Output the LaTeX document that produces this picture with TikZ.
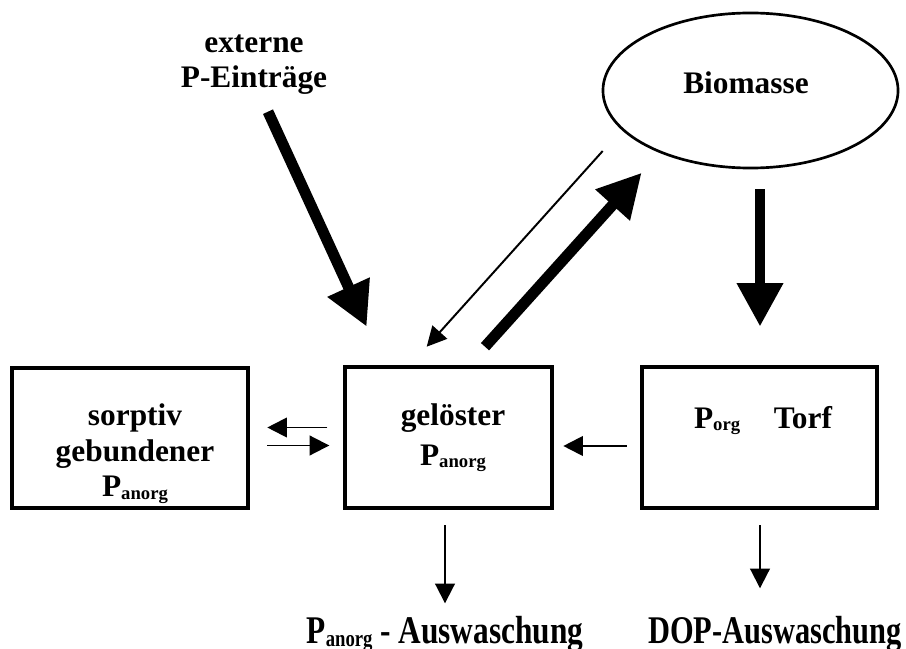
\documentclass[tikz,border=0pt]{standalone}
\usepackage{fontspec}
\setmainfont{Liberation Serif}
\usetikzlibrary{arrows.meta}
\usetikzlibrary{shapes.geometric}

\newcommand{\psub}[1]{\raisebox{-2pt}{\fontsize{13.3}{14}\selectfont #1}}

\tikzset{
    lbl/.style={anchor=base,inner sep=0pt,font=\bfseries\fontsize{22.3}{25.2}\selectfont},
    pool/.style={draw,line width=2.5pt,minimum width=#1,minimum height=3.525cm,inner sep=0pt,outer sep=0pt},
    fatflow/.style={line width=7.8pt,-{Triangle[length=31pt,width=31pt]}},
    slimflow/.style={line width=1.4pt,-{Triangle[length=14pt,width=14pt]}},
}

\begin{document}
\begin{tikzpicture}[x=0.025cm,y=-0.025cm]
    \useasboundingbox (0,0) rectangle (906,649);

    % pools
    \node[pool=5.9cm,minimum height=3.5cm] (sorp) at (130,438) {};
    \node[pool=5.175cm] (gel) at (448.5,437.5) {};
    \node[pool=5.875cm] (torf) at (759.5,437.5) {};
    \node[draw,ellipse,line width=1.9pt,minimum width=7.375cm,minimum height=3.875cm,inner sep=0pt] (bio) at (750.5,90.5) {};

    % labels (base = last line)
    \node[lbl,align=center] (ext) at (254,88) {externe\\P-Eintr\"age};
    \node[lbl] (biotxt) at (746,94) {Biomasse};
    \node[lbl,align=center] (sorptxt) at (135,496.7) {sorptiv\\gebundener\\P\psub{anorg}};
    \node[lbl,align=center] (geltxt) at (453,465) {gel\"oster\\[3pt]P\psub{anorg}};
    \node[lbl] (torftxt) at (763,428) {P\psub{org}\hspace{24pt}Torf};
    \node[lbl] (auswa) at (445,643) {\scalebox{1}[1.25]{P\psub{anorg} - Auswaschung}};
    \node[lbl] (auswb) at (775,643) {\scalebox{0.97}[1.25]{DOP-Auswaschung}};

    % end points of the flows
    \coordinate (ext-a) at (268,111.7);
    \coordinate (ext-b) at (366.7,326.7);
    \coordinate (up-a) at (485,346.7);
    \coordinate (up-b) at (641.7,172.7);
    \coordinate (down-a) at (602.7,151);
    \coordinate (down-b) at (426.7,346.7);
    \coordinate (bio-a) at (760,189.3);
    \coordinate (bio-b) at (760,326.7);
    \coordinate (sorp-in) at (329.3,445.5);
    \coordinate (sorp-out) at (267.3,445.5);
    \coordinate (gel-out) at (327.3,427.5);
    \coordinate (gel-in) at (267.3,427.5);
    \coordinate (torf-a) at (626.7,446);
    \coordinate (torf-b) at (563.3,446);
    \coordinate (wa-a) at (445,525);
    \coordinate (wa-b) at (445,603.3);
    \coordinate (wb-a) at (760,525);
    \coordinate (wb-b) at (760,588.3);

    % thick flows
    \draw[fatflow] (ext-a) -- (ext-b);
    \draw[fatflow] (up-a) -- (up-b);
    \draw[fatflow] (bio-a) -- (bio-b);

    % thin flows
    \draw[slimflow] (down-a) -- (down-b);
    \draw[slimflow] (gel-out) -- (gel-in);
    \draw[slimflow] (sorp-out) -- (sorp-in);
    \draw[slimflow] (torf-a) -- (torf-b);
    \draw[slimflow] (wa-a) -- (wa-b);
    \draw[slimflow] (wb-a) -- (wb-b);
\end{tikzpicture}
\end{document}
